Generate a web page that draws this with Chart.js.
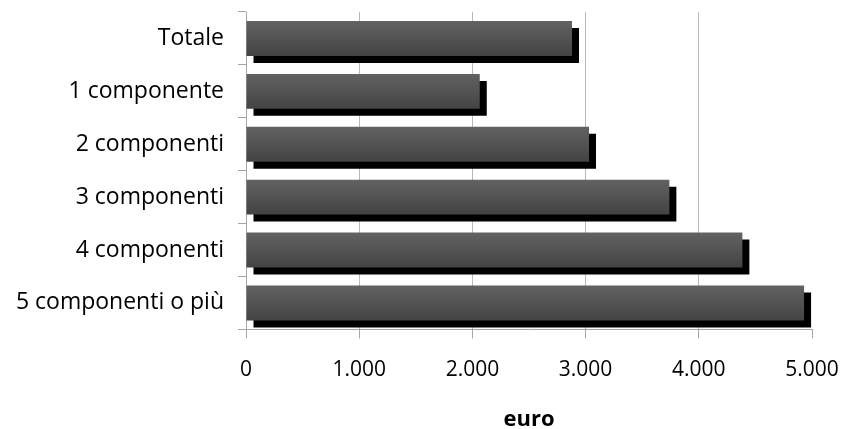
<!DOCTYPE html>
<html>
<head>
<meta charset="utf-8">
<script src="https://cdn.jsdelivr.net/npm/chart.js@4"></script>
<style>
  html, body { margin: 0; padding: 0; background: #fff; }
  #wrap { width: 847px; height: 429px; }
</style>
</head>
<body>
<div id="wrap"><canvas id="myChart"></canvas></div>
<script>
const categories = ['Totale', '1 componente', '2 componenti', '3 componenti', '4 componenti', '5 componenti o più'];
const values = [2880, 2065, 3030, 3740, 4385, 4930];
const xTicks = [0, 1000, 2000, 3000, 4000, 5000];

const FONT = "'Open Sans', sans-serif";
const BAR_PCT = 0.66;

// flat black offset shadow behind every bar
const shadowPlugin = {
  id: 'barShadow',
  beforeDatasetDraw(chart) {
    const ctx = chart.ctx;
    ctx.save();
    ctx.shadowColor = '#000';
    ctx.shadowBlur = 0;
    ctx.shadowOffsetX = 7;
    ctx.shadowOffsetY = 7;
  },
  afterDatasetDraw(chart) {
    chart.ctx.restore();
  }
};

function barGradient(c) {
  const chart = c.chart;
  const y = chart.scales.y;
  if (!y || !chart.chartArea || c.dataIndex === undefined) return '#555';
  const center = y.getPixelForValue(c.dataIndex);
  const half = (y.height / categories.length) * BAR_PCT / 2;
  if (!isFinite(center) || !isFinite(half)) return '#555';
  const g = chart.ctx.createLinearGradient(0, center - half, 0, center + half);
  g.addColorStop(0, '#626262');
  g.addColorStop(1, '#434343');
  return g;
}

new Chart(document.getElementById('myChart'), {
  type: 'bar',
  data: {
    labels: categories,
    datasets: [{
      data: values,
      backgroundColor: barGradient,
      borderWidth: 0,
      categoryPercentage: 1,
      barPercentage: BAR_PCT,
      clip: false
    }]
  },
  options: {
    indexAxis: 'y',
    responsive: true,
    maintainAspectRatio: false,
    animation: false,
    layout: { padding: { top: 12, right: 35, left: 0, bottom: 0 } },
    plugins: { legend: { display: false }, tooltip: { enabled: false } },
    scales: {
      x: {
        min: 0,
        max: 5000,
        afterBuildTicks: s => { s.ticks = xTicks.map(v => ({ value: v })); },
        afterFit: s => { s.paddingLeft = 0; s.paddingRight = 0; },
        ticks: {
          color: '#000',
          font: { family: FONT, size: 21 },
          padding: 19,
          maxRotation: 0,
          callback: v => String(v).replace(/^(\d)(\d{3})$/, '$1.$2')
        },
        grid: {
          color: c => c.index === xTicks.length - 1 ? 'rgba(0,0,0,0)' : '#b9b9b9',
          tickColor: '#a6a6a6',
          tickLength: 9,
          lineWidth: 1
        },
        border: { color: '#a6a6a6' },
        title: {
          display: true,
          text: 'euro',
          color: '#000',
          font: { family: FONT, size: 22, weight: 'bold' },
          padding: { top: 5, bottom: -4 }
        }
      },
      y: {
        afterFit: s => { s.width = 246; s.paddingTop = 0; s.paddingBottom = 0; },
        ticks: {
          color: '#000',
          font: { family: FONT, size: 23 },
          padding: 14
        },
        grid: {
          offset: true,
          drawOnChartArea: false,
          tickColor: '#a6a6a6',
          tickLength: 8
        },
        border: { color: '#a6a6a6' }
      }
    }
  },
  plugins: [shadowPlugin]
});
</script>
</body>
</html>
